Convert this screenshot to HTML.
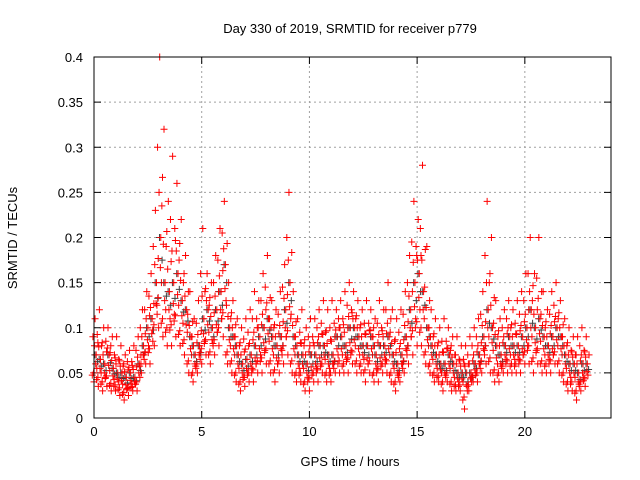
<!DOCTYPE html>
<html><head><meta charset="utf-8"><style>
body{margin:0;background:#fff}
svg{display:block;font-family:"Liberation Sans",sans-serif}
</style></head><body>
<svg id="chart" width="640" height="480" viewBox="0 0 640 480">
<text x="350" y="33" font-size="13" text-anchor="middle">Day 330 of 2019, SRMTID for receiver p779</text>
<text x="350" y="466" font-size="13" text-anchor="middle">GPS time / hours</text>
<text transform="translate(17,238) rotate(-90)" font-size="13" text-anchor="middle">SRMTID / TECUs</text>
<g id="grid"></g>
<g id="ticks"></g>
<g id="marks"></g>
<rect x="94" y="57" width="517" height="361" fill="none" stroke="#000" stroke-width="1"/>
</svg>
<script>
const xTicks=[0,5,10,15,20];
const yTicks=[0,0.05,0.1,0.15,0.2,0.25,0.3,0.35,0.4];
const yTickLabels=["0","0.05","0.1","0.15","0.2","0.25","0.3","0.35","0.4"];
const times=[];for(let i=0;i<=114;i++)times.push(+(i*0.2).toFixed(1));
const lowVals=[.04,.035,.03,.035,.03,.03,.025,.02,.025,.03,.03,.05,.06,.06,.08,.1,.09,.08,.08,.09,.08,.07,.05,.04,.05,.06,.07,.06,.07,.08,.09,.06,.05,.04,.03,.035,.04,.04,.05,.05,.06,.05,.04,.05,.06,.07,.05,.04,.04,.03,.03,.04,.04,.05,.04,.04,.05,.05,.05,.05,.06,.05,.05,.04,.05,.04,.04,.05,.05,.04,.03,.04,.05,.06,.07,.08,.08,.06,.05,.04,.04,.03,.04,.03,.03,.03,.01,.03,.04,.04,.05,.06,.05,.04,.04,.05,.05,.05,.05,.05,.06,.06,.05,.06,.05,.05,.05,.06,.05,.04,.03,.03,.02,.03,.035];
const midVals=[.07,.065,.06,.07,.055,.05,.05,.045,.05,.045,.06,.08,.1,.11,.15,.2,.15,.14,.15,.16,.13,.12,.09,.07,.08,.11,.12,.1,.12,.14,.17,.1,.09,.07,.06,.065,.07,.08,.09,.1,.11,.09,.08,.09,.12,.15,.09,.07,.07,.06,.07,.07,.08,.08,.07,.07,.09,.09,.08,.1,.1,.09,.08,.08,.09,.07,.08,.08,.09,.07,.06,.07,.09,.12,.15,.16,.14,.1,.08,.07,.06,.06,.07,.06,.05,.05,.05,.05,.06,.07,.09,.12,.1,.08,.07,.08,.09,.08,.08,.09,.1,.12,.1,.11,.09,.08,.09,.1,.09,.07,.06,.06,.05,.06,.06];
const highVals=[.11,.12,.10,.10,.09,.09,.08,.07,.075,.08,.09,.12,.14,.16,.23,.40,.32,.24,.29,.26,.22,.18,.14,.11,.13,.21,.16,.15,.18,.21,.24,.15,.13,.11,.10,.11,.12,.14,.13,.16,.18,.13,.12,.14,.17,.25,.14,.11,.12,.10,.11,.11,.12,.13,.12,.13,.12,.13,.14,.15,.14,.13,.12,.13,.12,.11,.13,.12,.15,.12,.11,.12,.14,.18,.24,.22,.28,.19,.12,.11,.10,.11,.10,.09,.09,.08,.08,.09,.1,.11,.14,.24,.2,.13,.11,.12,.13,.12,.13,.14,.16,.2,.16,.2,.14,.12,.14,.15,.13,.11,.1,.09,.09,.1,.09];
const X0=94,X1=611,Y0=418,Y1=57,XMAX=24,YMAX=0.4;
const xs=v=>X0+(X1-X0)*v/XMAX, ys=v=>Y0-(Y0-Y1)*v/YMAX;
const NS="http://www.w3.org/2000/svg";
const grid=document.getElementById('grid'),ticks=document.getElementById('ticks'),marks=document.getElementById('marks');
function mk(t,a,p){const e=document.createElementNS(NS,t);for(const k in a)e.setAttribute(k,a[k]);p.appendChild(e);return e;}
xTicks.forEach(v=>{const x=xs(v);
 if(v>0){const g=mk('line',{x1:x,x2:x,y1:Y0,y2:Y1,stroke:'#a0a0a0','stroke-dasharray':'2,3','stroke-width':1},grid);
 
 }
 mk('line',{x1:x,x2:x,y1:Y0,y2:Y0-7,stroke:'#000'},ticks);mk('line',{x1:x,x2:x,y1:Y1,y2:Y1+7,stroke:'#000'},ticks);
 const t=mk('text',{x:x,y:Y0+18,'font-size':13,'text-anchor':'middle'},ticks);t.textContent=v;
 
 });
yTicks.forEach((v,i)=>{const y=ys(v);
 if(v>0&&v<0.4){const g=mk('line',{x1:X0,x2:X1,y1:y,y2:y,stroke:'#a0a0a0','stroke-dasharray':'2,3','stroke-width':1},grid);
 
 }
 mk('line',{x1:X0,x2:X0+7,y1:y,y2:y,stroke:'#000'},ticks);mk('line',{x1:X1,x2:X1-7,y1:y,y2:y,stroke:'#000'},ticks);
 const t=mk('text',{x:X0-11,y:y+5,'font-size':13,'text-anchor':'end'},ticks);t.textContent=yTickLabels[i];
 
 });
function plus(t,v,col){const x=xs(t),y=ys(v);
 const p=mk('path',{d:`M${x-3.5},${y}h7M${x},${y-3.5}v7`,stroke:col,'stroke-width':1,fill:'none'},marks);
 
 }
times.forEach((t,i)=>{
 const lo=lowVals[i],md=midVals[i],hi=highVals[i];
 plus(t+0.04,md,'#404040');
 plus(t+0.16,(lo+3*md)/4,'#404040');
 plus(t,lo,'#ff0000');plus(t+0.1,md,'#ff0000');plus(t+0.05,hi,'#ff0000');
 plus(t+0.13,(lo+md)/2,'#ff0000');plus(t-0.05,(md+hi)/2,'#ff0000');
 plus(t+0.08,(lo+2*md)/3,'#ff0000');
 plus(t-0.08,(3*lo+md)/4,'#ff0000');
 plus(t+0.18,(2*md+hi)/3,'#ff0000');
 plus(t-0.02,(md+lo*2)/3,'#ff0000');
 plus(t+0.02,(3*md+hi)/4,'#ff0000');
});
</script>
</body></html>
